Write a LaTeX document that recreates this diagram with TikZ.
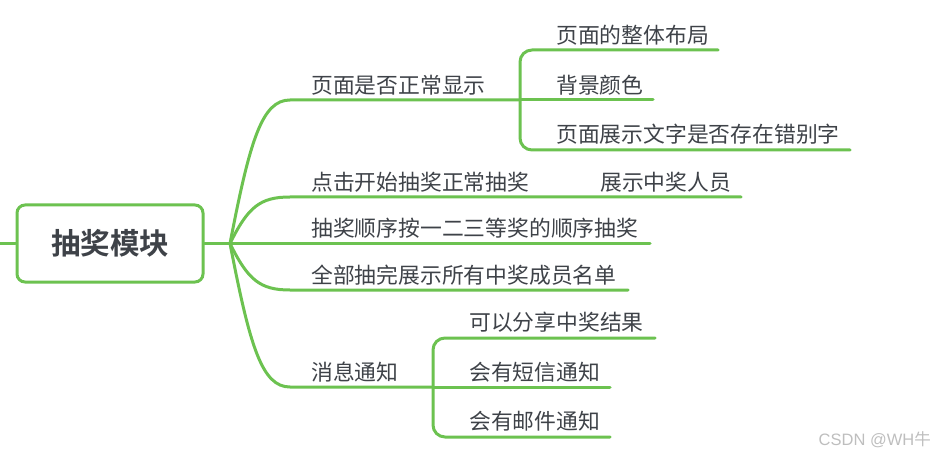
\documentclass[tikz,border=0pt]{standalone}
\usepackage{fontspec}
\setmainfont{Noto Sans CJK SC}[BoldFont={Noto Sans CJK SC Bold}]
\newfontfamily\wmfont{Liberation Sans}
\definecolor{lgreen}{RGB}{108,194,80}
\definecolor{tgray}{RGB}{62,66,72}
\definecolor{wgray}{RGB}{190,190,190}
\begin{document}
\begin{tikzpicture}[x=1pt,y=-1pt,
  link/.style={draw=lgreen,line width=3pt,line cap=round,line join=round},
  lbl/.style={anchor=west,inner sep=0pt,text=tgray,font=\fontsize{21.8}{24}\selectfont},
  rootbox/.style={draw=lgreen,line width=3pt,rounded corners=8pt,minimum width=186pt,minimum height=77pt,text=tgray,font=\fontsize{29.5}{32}\selectfont\bfseries}]
\useasboundingbox (0,0) rectangle (937,457);
% root
\node[rootbox] (root) at (110,243.5) {抽奖模块};
\coordinate (leftend) at (-2,243.5);
\coordinate (hub) at (230,243.5);
\draw[link] (root.west) -- (leftend);
\draw[link] (root.east) -- (hub);
% branch labels
\node[lbl] (b1) at (311,85) {页面是否正常显示};
\node[lbl] (b2) at (311,182) {点击开始抽奖正常抽奖};
\node[lbl] (b3) at (311,228) {抽奖顺序按一二三等奖的顺序抽奖};
\node[lbl] (b4) at (311,275) {全部抽完展示所有中奖成员名单};
\node[lbl] (b5) at (311,372) {消息通知};
% children
\node[lbl] (c11) at (556,35) {页面的整体布局};
\node[lbl] (c12) at (556,85) {背景颜色};
\node[lbl] (c13) at (556,134) {页面展示文字是否存在错别字};
\node[lbl] (c21) at (600,182) {展示中奖人员};
\node[lbl] (c51) at (469,322) {可以分享中奖结果};
\node[lbl] (c52) at (469,372) {会有短信通知};
\node[lbl] (c53) at (469,421) {会有邮件通知};
% underline coordinates
\coordinate (u1) at (290,100);
\coordinate (k1) at (520,100);
\coordinate (u2) at (290,197);
\coordinate (e2) at (741,197);
\coordinate (e3) at (650,243.5);
\coordinate (u4) at (290,290);
\coordinate (e4) at (628,290);
\coordinate (u5) at (290,387);
\coordinate (k5) at (433,387);
\coordinate (e11) at (718,50);
\coordinate (e12) at (653,100);
\coordinate (e13) at (850,150);
\coordinate (e51) at (655,338);
\coordinate (e52) at (610,387);
\coordinate (e53) at (610,437);
% branches
\draw[link] (hub) .. controls (250,140) and (262,100) .. (u1) -- (k1);
\draw[link] (hub) .. controls (248,207) and (260,197) .. (u2) -- (e2);
\draw[link] (hub) -- (e3);
\draw[link] (hub) .. controls (248,280) and (260,290) .. (u4) -- (e4);
\draw[link] (hub) .. controls (250,347) and (262,387) .. (u5) -- (k5);
% brackets
\draw[link,rounded corners=12pt] (e11) -- (k1 |- e11) -- (k1 |- e13) -- (e13);
\draw[link] (k1) -- (e12);
\draw[link,rounded corners=12pt] (e51) -- (k5 |- e51) -- (k5 |- e53) -- (e53);
\draw[link] (k5) -- (e52);
% watermark
\node[anchor=east,inner sep=0pt,text=wgray,font=\fontsize{16.5}{18}\selectfont] (wm) at (931,440) {{\wmfont CSDN @WH}牛};
\end{tikzpicture}
\end{document}
